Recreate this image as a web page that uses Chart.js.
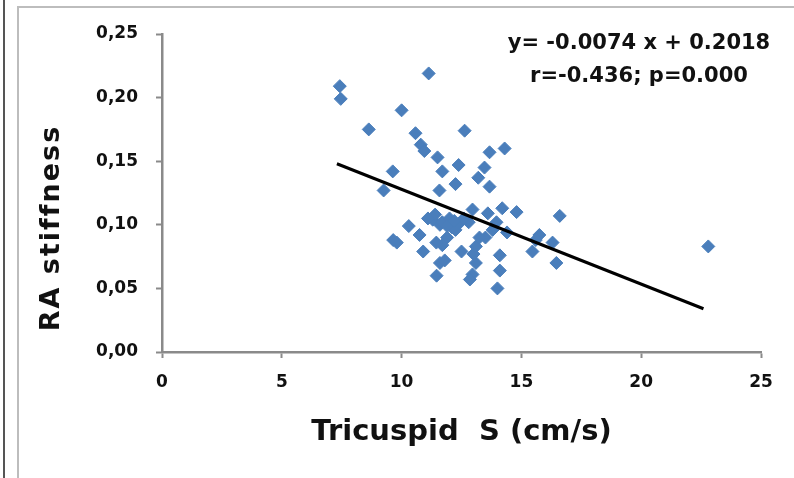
<!DOCTYPE html>
<html>
<head>
<meta charset="utf-8">
<script src="https://cdn.jsdelivr.net/npm/chart.js@4"></script>
<style>
  html, body { margin: 0; padding: 0; background: #fff; }
  #wrap { position: relative; width: 794px; height: 478px; overflow: hidden; }
  #chart { position: absolute; left: 0; top: 0; }
  .edge-dark { position: absolute; left: 3px; top: 0; width: 2px; height: 478px; background: #555; }
  .edge-frame { position: absolute; left: 17px; top: 6px; right: -4px; bottom: -4px;
                border-left: 2px solid #bdbdbd; border-top: 2px solid #bdbdbd; }
</style>
</head>
<body>
<div id="wrap">
  <canvas id="chart" width="794" height="478"></canvas>
  <div class="edge-dark"></div>
  <div class="edge-frame"></div>
</div>
<script>
// ================= DATA =================
const tricuspidS = [
  7.42, 7.46, 8.63, 11.13, 10.0, 10.58, 10.8, 10.95, 11.5, 12.38,
  12.63, 11.7, 12.25, 11.58, 9.63, 9.25, 13.67, 14.3, 13.46, 13.2,
  13.67, 10.3, 9.8, 9.65, 10.75, 10.9, 11.3, 11.6, 11.4, 11.7,
  12.1, 12.4, 12.8, 12.96, 13.6, 14.2, 14.8, 13.96, 14.4, 13.8,
  13.5, 13.25, 13.1, 12.5, 11.7, 11.9, 11.45, 11.6, 11.46, 11.8,
  12.96, 12.85, 13.1, 14.1, 14.1, 14.0, 15.46, 15.75, 16.3, 16.46,
  16.6, 22.8, 11.1, 12.6, 12.0, 12.25, 15.6, 13.0, 11.9, 12.2
];
const raStiffness = [
  0.209, 0.199, 0.175, 0.219, 0.190, 0.172, 0.163, 0.158, 0.153, 0.147,
  0.174, 0.142, 0.132, 0.127, 0.142, 0.127, 0.157, 0.160, 0.145, 0.137,
  0.130, 0.099, 0.086, 0.088, 0.092, 0.079, 0.104, 0.100, 0.108, 0.102,
  0.098, 0.101, 0.102, 0.112, 0.109, 0.113, 0.110, 0.102, 0.094, 0.096,
  0.090, 0.090, 0.083, 0.079, 0.084, 0.090, 0.086, 0.070, 0.060, 0.072,
  0.061, 0.057, 0.070, 0.076, 0.064, 0.050, 0.079, 0.092, 0.086, 0.070,
  0.107, 0.083, 0.105, 0.105, 0.105, 0.096, 0.088, 0.077, 0.099, 0.103
];
// regression line end points
const trendX = [7.3, 22.6];
const trendY = [0.148, 0.034];

const xTickLabels = ["0", "5", "10", "15", "20", "25"];
const yTickLabels = ["0,00", "0,05", "0,10", "0,15", "0,20", "0,25"];
const equationLines = ["y= -0.0074 x + 0.2018", "r=-0.436; p=0.000"];
const xTitle = "Tricuspid  S (cm/s)";
const yTitle = "RA stiffness";

// ================= STYLE =================
const AXIS_GRAY = "#8a8a8a";
const POINT_BLUE = "#4a7ebb";
const BOLD = "'DejaVu Sans', sans-serif";

const points = tricuspidS.map((x, i) => ({ x: x, y: raStiffness[i] }));
const trend = trendX.map((x, i) => ({ x: x, y: trendY[i] }));

// y title and equation text drawn on top of the chart
const textPlugin = {
  id: "extraText",
  afterDraw(chart) {
    const ctx = chart.ctx;
    ctx.save();
    ctx.fillStyle = "#111";
    ctx.textAlign = "center";
    ctx.textBaseline = "middle";

    ctx.font = "bold 21px " + BOLD;
    ctx.fillText(equationLines[0], 639, 44);
    ctx.fillText(equationLines[1], 639, 77);

    ctx.translate(52, 228);
    ctx.rotate(-Math.PI / 2);
    ctx.font = "bold 27px " + BOLD;
    ctx.letterSpacing = "2px";
    ctx.fillText(yTitle, 0, 0);
    ctx.restore();
  }
};

new Chart(document.getElementById("chart"), {
  type: "scatter",
  data: {
    datasets: [
      {
        data: trend,
        showLine: true,
        borderColor: "#000",
        borderWidth: 3,
        pointRadius: 0,
        order: 0
      },
      {
        data: points,
        pointStyle: "rectRot",
        pointRadius: 6.5,
        pointBackgroundColor: POINT_BLUE,
        pointBorderColor: POINT_BLUE,
        pointBorderWidth: 1,
        order: 1
      }
    ]
  },
  options: {
    responsive: false,
    animation: false,
    devicePixelRatio: 1,
    layout: { padding: { top: 34, right: 33, left: 0, bottom: 0 } },
    plugins: { legend: { display: false }, tooltip: { enabled: false } },
    scales: {
      x: {
        type: "linear",
        min: 0, max: 25,
        afterFit(scale) { scale.height = 126; },
        border: { color: AXIS_GRAY, width: 2.5 },
        grid: { drawOnChartArea: false, tickLength: 6, tickColor: AXIS_GRAY, tickWidth: 2 },
        ticks: {
          stepSize: 5,
          padding: 14,
          color: "#111",
          font: { family: BOLD, weight: "bold", size: 17 },
          callback: (v, i) => xTickLabels[i]
        },
        title: {
          display: true,
          text: xTitle,
          color: "#111",
          font: { family: BOLD, weight: "bold", size: 29 },
          padding: { top: 0, bottom: 28 }
        }
      },
      y: {
        type: "linear",
        min: 0, max: 0.25,
        afterFit(scale) { scale.width = 162; },
        border: { color: AXIS_GRAY, width: 2.5 },
        grid: { drawOnChartArea: false, tickLength: 6, tickColor: AXIS_GRAY, tickWidth: 2 },
        ticks: {
          stepSize: 0.05,
          padding: 18,
          color: "#111",
          font: { family: BOLD, weight: "bold", size: 17 },
          callback: (v, i) => yTickLabels[i]
        }
      }
    }
  },
  plugins: [textPlugin]
});
</script>
</body>
</html>
